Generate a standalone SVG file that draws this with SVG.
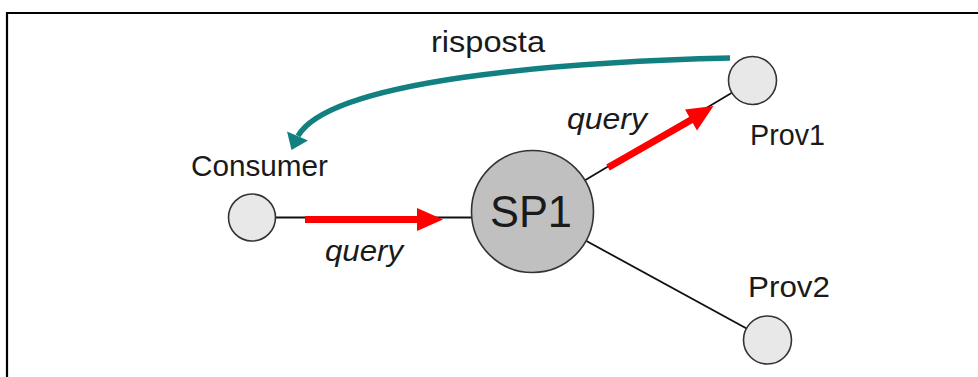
<svg xmlns="http://www.w3.org/2000/svg" width="978" height="377" viewBox="0 0 978 377">
<style>
.lbl{font-family:"Liberation Sans",Arial,sans-serif;font-size:30px;fill:#1a1a1a}
.it{font-style:italic}
.sm{fill:#e8e8e8;stroke:#333;stroke-width:1.6}
.big{fill:#c0c0c0;stroke:#333;stroke-width:1.6}
.edge{stroke:#111;stroke-width:1.8;fill:none}
.red{fill:#ff0000}
</style>
<rect width="978" height="377" fill="#fff"/>
<path d="M7,377 V13 H978" fill="none" stroke="#000" stroke-width="2.2"/>
<g id="connectors">
  <line class="edge" x1="252" y1="217.5" x2="532" y2="217.5"/>
  <line class="edge" x1="532.5" y1="211.5" x2="752.5" y2="80.5"/>
  <line class="edge" x1="532.5" y1="211.5" x2="767.5" y2="340"/>
  <rect class="red" x="305" y="216" width="114" height="7"/>
  <polygon class="red" points="417,208 443,219.5 417,231"/>
  <line x1="608" y1="167.5" x2="692" y2="119.5" stroke="#ff0000" stroke-width="7"/>
  <polygon class="red" points="713.5,106 697,130.5 685,109.5"/>
  <path d="M730,58 C560,62 330,80 298,136" fill="none" stroke="#128080" stroke-width="5.5"/>
  <polygon points="291.5,150 287,131.5 308,140.5" fill="#128080"/>
  <text class="lbl" x="431" y="52" textLength="114" lengthAdjust="spacingAndGlyphs">risposta</text>
  <text class="lbl it" x="325" y="261" textLength="78" lengthAdjust="spacingAndGlyphs">query</text>
  <text class="lbl it" x="567" y="129" textLength="80" lengthAdjust="spacingAndGlyphs">query</text>
</g>
<g id="consumer">
  <circle class="sm" cx="252" cy="217.5" r="23.5"/>
  <text class="lbl" x="191" y="175.5" textLength="137" lengthAdjust="spacingAndGlyphs">Consumer</text>
</g>
<g id="sp1">
  <circle class="big" cx="532.5" cy="211.5" r="61"/>
  <text class="lbl" x="490" y="227" style="font-size:44px" textLength="82" lengthAdjust="spacingAndGlyphs">SP1</text>
</g>
<g id="prov1">
  <circle class="sm" cx="752.5" cy="80.5" r="24"/>
  <text class="lbl" x="750" y="145" textLength="75" lengthAdjust="spacingAndGlyphs">Prov1</text>
</g>
<g id="prov2">
  <circle class="sm" cx="767.5" cy="340" r="24"/>
  <text class="lbl" x="748" y="297" textLength="82" lengthAdjust="spacingAndGlyphs">Prov2</text>
</g>
</svg>
